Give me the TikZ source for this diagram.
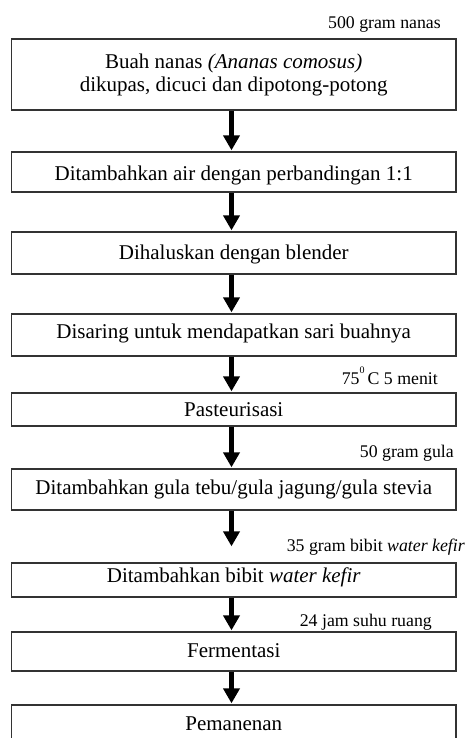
\documentclass[tikz,border=0pt]{standalone}
\usepackage{fontspec}
\setmainfont{Liberation Serif}
\usetikzlibrary{arrows.meta}
\begin{document}
\begin{tikzpicture}[x=1pt,y=-1pt,
  boxbase/.style={draw=black!80, line width=1.3pt, minimum width=444.5pt, inner sep=0pt,
    font=\fontsize{21}{23}\selectfont},
  boxh/.style={boxbase, text height=#1, text depth=0pt},
  note/.style={anchor=base east, inner sep=0pt, font=\fontsize{17.8}{20}\selectfont},
  arr/.style={line width=5.5pt, -{Triangle[width=16pt,length=15pt]}, shorten >=1pt}
]
\useasboundingbox (0,0) rectangle (470,738);
\clip (0,0) rectangle (470,738);
\fill[white] (0,0) rectangle (470,738);
\coordinate (ax) at (231.5,0);

\node[boxbase, minimum height=71pt, align=center] (b1) at (233.75,74.5)
  {Buah nanas \textit{(Ananas comosus)}\\dikupas, dicuci dan dipotong-potong};
\node[boxh=16pt, minimum height=40pt] (b2) at (233.75,172) {Ditambahkan air dengan perbandingan 1:1};
\node[boxh=12pt, minimum height=42pt] (b3) at (233.75,253) {Dihaluskan dengan blender};
\node[boxh=6pt, minimum height=42pt] (b4) at (233.75,335) {Disaring untuk mendapatkan sari buahnya};
\node[boxh=14pt, minimum height=33pt] (b5) at (233.75,409.5) {Pasteurisasi};
\node[boxh=10pt, minimum height=41pt] (b6) at (233.75,489.5) {Ditambahkan gula tebu/gula jagung/gula stevia};
\node[boxh=5pt, minimum height=34pt] (b7) at (233.75,580) {Ditambahkan bibit \textit{water kefir}};
\node[boxh=11pt, minimum height=39pt] (b8) at (233.75,651.5) {Fermentasi};
\node[boxh=8pt, minimum height=42pt] (b9) at (233.75,726) {Pemanenan};

\node[note] (n1) at (441,28.3) {500 gram nanas};
\node[note] (n5) at (438,384.5) {75\raisebox{11pt}{\fontsize{10}{10}\selectfont 0}\,C 5 menit};
\node[note] (n6) at (454,457.3) {50 gram gula};
\node[note] (n7) at (465,551.7) {35 gram bibit \textit{water kefir}};
\node[note] (n8) at (432,626) {24 jam suhu ruang};

\draw[arr] (b1.south -| ax) -- (b2.north -| ax);
\draw[arr] (b2.south -| ax) -- (b3.north -| ax);
\draw[arr] (b3.south -| ax) -- (b4.north -| ax);
\draw[arr] (b4.south -| ax) -- (b5.north -| ax);
\draw[arr] (b5.south -| ax) -- (b6.north -| ax);
\draw[arr, shorten >=16pt] (b6.south -| ax) -- (b7.north -| ax);
\draw[arr] (b7.south -| ax) -- (b8.north -| ax);
\draw[arr] (b8.south -| ax) -- (b9.north -| ax);
\end{tikzpicture}
\end{document}
